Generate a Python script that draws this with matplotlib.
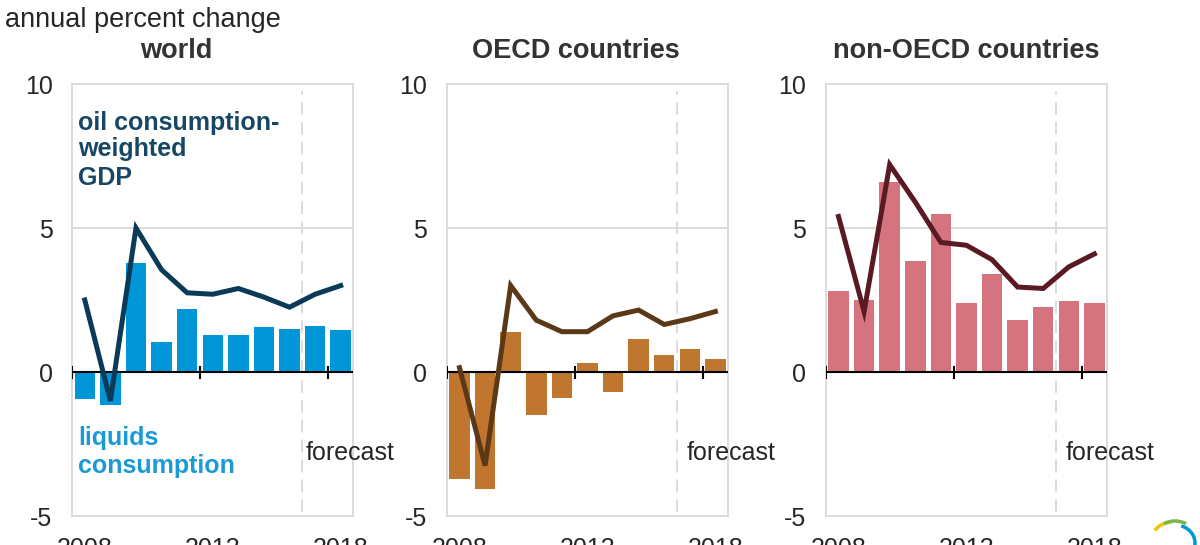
import numpy as np
import matplotlib
matplotlib.use("Agg")
import matplotlib.pyplot as plt
from matplotlib.patches import Arc

plt.rcParams['font.family'] = ['Liberation Sans', 'DejaVu Sans']

# ── Data ──────────────────────────────────────────
years = [2008, 2009, 2010, 2011, 2012, 2013, 2014, 2015, 2016, 2017, 2018]
tick_years = [2008, 2013, 2018]

world_liquids = [-0.95, -1.15, 3.8, 1.05, 2.2, 1.3, 1.3, 1.55, 1.5, 1.6, 1.45]
world_gdp     = [2.5, -1.0, 5.0, 3.55, 2.75, 2.7, 2.9, 2.6, 2.25, 2.7, 3.0]

oecd_liquids = [-3.7, -4.05, 1.4, -1.5, -0.9, 0.3, -0.7, 1.15, 0.6, 0.8, 0.45]
oecd_gdp     = [0.15, -3.25, 3.0, 1.8, 1.4, 1.4, 1.95, 2.15, 1.65, 1.85, 2.1]

nonoecd_liquids = [2.8, 2.5, 6.6, 3.85, 5.5, 2.4, 3.4, 1.8, 2.25, 2.45, 2.4]
nonoecd_gdp     = [5.4, 2.1, 7.2, 5.9, 4.5, 4.4, 3.9, 2.95, 2.9, 3.65, 4.1]

first_forecast_year = 2017

# ── Panels ────────────────────────────────────────
panels = [
    # title, bars, line, bar colour, line colour, axes left px, title centre px, forecast text x
    ("world", world_liquids, world_gdp, "#0096d7", "#0a3a56", 72, 176, 8.63),
    ("OECD countries", oecd_liquids, oecd_gdp, "#c0762f", "#5b3917", 446.7, 576, 8.88),
    ("non-OECD countries", nonoecd_liquids, nonoecd_gdp, "#d5747f", "#5a1a24", 825.7, 966, 8.88),
]

W, H = 1200, 545
fig = plt.figure(figsize=(W / 100, H / 100), dpi=100)

frame = "#d9d9d9"
text_col = "#262626"
x = np.arange(len(years))
fc_idx = years.index(first_forecast_year) - 0.5

for title, bars, line, bcol, lcol, left_px, title_px, fc_x in panels:
    ax = fig.add_axes([left_px / W, 1 - 516 / H, 281.5 / W, 432 / H])
    ax.bar(x, bars, width=0.8, color=bcol, zorder=2)
    ax.axhline(5, color=frame, lw=1.3, zorder=1)
    ax.plot([fc_idx, fc_idx], [-4.85, 9.75], color=frame, lw=1.3,
            dashes=(7, 4), zorder=1)
    ax.axhline(0, color="black", lw=1.5, zorder=3)
    tick_pos = [years.index(y) - 0.5 for y in tick_years]
    ax.vlines(tick_pos, -0.25, 0.22, color="black", lw=1.5, zorder=3)
    ax.plot(x, line, color=lcol, lw=3.6, solid_joinstyle="miter", zorder=4)

    ax.set_xlim(-0.5, len(years) - 0.5)
    ax.set_ylim(-5, 10)
    for s in ax.spines.values():
        s.set_color(frame)
        s.set_linewidth(1.3)
    ax.set_yticks([-5, 0, 5, 10])
    ax.set_yticklabels(["-5", "0", "5", "10"])
    ax.set_xticks([years.index(y) for y in tick_years])
    ax.set_xticklabels([str(y) for y in tick_years])
    ax.tick_params(length=0, labelsize=18, colors=text_col)
    ax.tick_params(axis="y", pad=14)
    ax.tick_params(axis="x", pad=15)

    ax.text(fc_x, -2.8, "forecast", fontsize=18, color=text_col,
            va="center", ha="left", clip_on=False)

    fig.text(title_px / W, 1 - 51 / H, title, fontsize=19.5, fontweight="bold",
             color="#333333", ha="center", va="center")

    if title == "world":
        gdp_lines = ["oil consumption-", "weighted", "GDP"]
        for txt, yy in zip(gdp_lines, [8.66, 7.73, 6.75]):
            ax.text(-0.27, yy, txt, fontsize=18, fontweight="bold",
                    color="#164866", va="center", ha="left")
        for txt, yy in zip(["liquids", "consumption"], [-2.28, -3.26]):
            ax.text(-0.27, yy, txt, fontsize=18, fontweight="bold",
                    color="#1a9ad6", va="center", ha="left")

fig.text(5 / W, 1 - 20 / H, "annual percent change", fontsize=19.5,
         color=text_col, ha="left", va="center")

# ── EIA logo (partly cut off) ─────────────────────
lax = fig.add_axes([1135 / W, 0, 65 / W, 32 / H])
lax.set_xlim(0, 65)
lax.set_ylim(0, 32)
lax.axis("off")
lax.add_patch(Arc((38, 4), 44, 38, theta1=95, theta2=150, color="#f2c500", lw=2.5))
lax.add_patch(Arc((40, 2), 46, 44, theta1=60, theta2=120, color="#7ab648", lw=2.5))
lax.add_patch(Arc((40, 2), 40, 36, theta1=-10, theta2=70, color="#0096d7", lw=2.5))

fig.savefig("out.png", dpi=100)
